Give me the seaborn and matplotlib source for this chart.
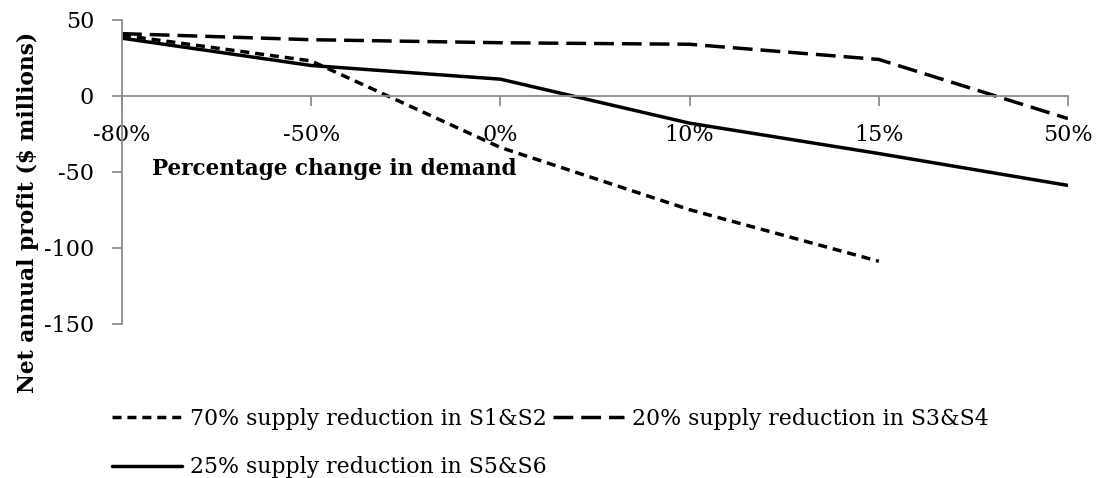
import pandas as pd
import numpy as np
from matplotlib import pyplot as plt
from matplotlib.lines import Line2D
import seaborn as sns

# percentage change in demand (categorical x axis)
demand_change = ["-80%", "-50%", "0%", "10%", "15%", "50%"]

# net annual profit, $ millions
s1s2_70 = [40, 23, -34, -75, -109, np.nan]
s3s4_20 = [41, 37, 35, 34, 24, -15]
s5s6_25 = [38, 20, 11, -18, -38, -59]

series_names = ["70% supply reduction in S1&S2",
                "20% supply reduction in S3&S4",
                "25% supply reduction in S5&S6"]

y_ticks = [-150, -100, -50, 0, 50]

pos = np.arange(len(demand_change))
df = pd.concat([
    pd.DataFrame({"pos": pos, "profit": vals, "series": name})
    for name, vals in zip(series_names, [s1s2_70, s3s4_20, s5s6_25])
], ignore_index=True)

sns.set_theme(style="white")
plt.rcParams["font.family"] = ["DejaVu Serif"]
plt.rcParams["axes.unicode_minus"] = False
plt.rcParams["text.color"] = "black"
plt.rcParams["axes.labelcolor"] = "black"

fig = plt.figure(figsize=(11.05, 4.78), dpi=100)
ax = fig.add_axes([0.1104, 0.3232, 0.9665 - 0.1104, 0.9582 - 0.3232])

lw = 2.5
dash_map = {series_names[0]: (2.6, 1.7),
            series_names[1]: (5.7, 2.3),
            series_names[2]: ""}
sns.lineplot(data=df, x="pos", y="profit", hue="series", style="series",
             palette=["black"] * 3, dashes=dash_map, linewidth=lw,
             ax=ax, legend=False)

ax.set_xlim(0, len(demand_change) - 1)
ax.set_ylim(-150, 50)
ax.set_xticks(pos)
ax.set_xticklabels(demand_change)
ax.set_yticks(y_ticks)

for s in ["top", "right"]:
    ax.spines[s].set_visible(False)
ax.spines["bottom"].set_position(("data", 0))
for s in ["left", "bottom"]:
    ax.spines[s].set_color("#8c8c8c")
    ax.spines[s].set_linewidth(1.3)

ax.tick_params(axis="x", direction="out", length=7, width=1.3, color="#8c8c8c",
               bottom=True, labelsize=16, pad=13, labelcolor="black")
ax.tick_params(axis="y", direction="out", length=7, width=1.3, color="#8c8c8c",
               left=True, labelsize=16, pad=13, labelcolor="black")

ax.set_xlabel("")
ax.set_ylabel("Net annual profit ($ millions)", fontsize=15.7, fontweight="bold",
              color="black")
ax.yaxis.set_label_coords(-0.088, 0.367)
ax.text(0.0317, 0.489, "Percentage change in demand", transform=ax.transAxes,
        fontsize=15.5, fontweight="bold", ha="left", va="baseline", color="black")

# legend: column-major order so row 1 = 70% / 20%, row 2 = 25%
handles = [Line2D([], [], color="black", lw=lw, dashes=dash_map[series_names[0]]),
           Line2D([], [], color="black", lw=lw),
           Line2D([], [], color="black", lw=lw, dashes=dash_map[series_names[1]])]
labels = [series_names[0], series_names[2], series_names[1]]
fig.legend(handles, labels, ncol=2, loc="upper left",
           bbox_to_anchor=(112 / 1105, 1 - 408 / 478), frameon=False, fontsize=15.8,
           handlelength=3.2, handletextpad=0.36, columnspacing=0.3,
           labelspacing=1.2, borderaxespad=0, borderpad=0, labelcolor="black")

fig.savefig("out.png", dpi=100)
